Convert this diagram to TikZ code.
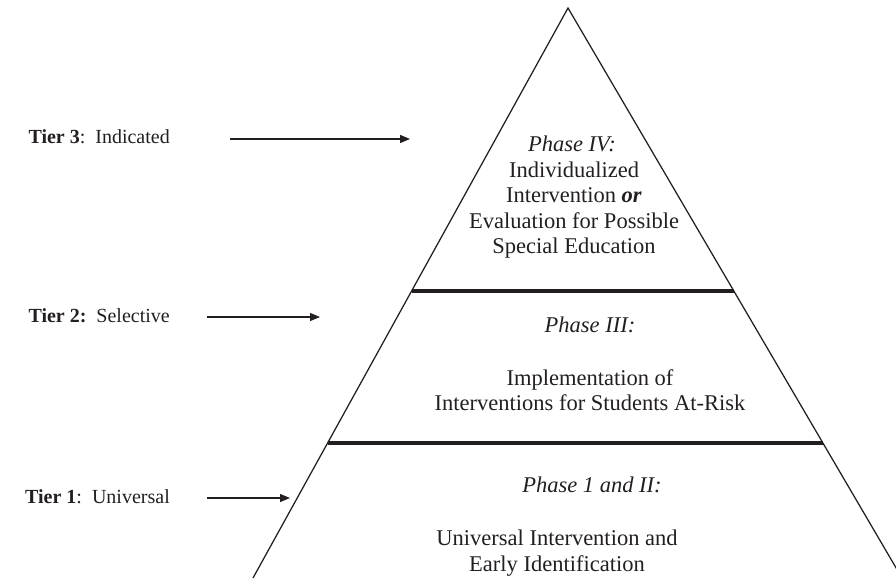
\documentclass[tikz,border=0pt]{standalone}
\usepackage{fontspec}
\setmainfont{Liberation Serif}
\usetikzlibrary{arrows.meta,calc}
\definecolor{ink}{RGB}{35,31,32}
\begin{document}
\begin{tikzpicture}[x=1pt,y=-1pt,
  edge/.style={ink,line width=1.25pt},
  divider/.style={ink,line width=3.8pt},
  pointer/.style={ink,line width=1.2pt,-{Triangle[length=10pt,width=8pt]}},
  tierlabel/.style={anchor=base east,inner sep=0pt,font=\fontsize{20}{23}\selectfont,text=ink},
  phase/.style={inner sep=0pt,font=\fontsize{22.5}{25.3}\selectfont\itshape,text=ink},
  body/.style={inner sep=0pt,align=center,font=\fontsize{22.5}{25.3}\selectfont,text=ink}]
\useasboundingbox (0,0) rectangle (896,578);

% pyramid outline, running off the bottom and right edges
\coordinate (apex) at (568,8);
\coordinate (bl) at (253,578);
\coordinate (br) at (902,578);
\begin{scope}
  \clip (0,0) rectangle (896,578);
  \draw[edge,line join=miter] (bl) -- (apex) -- (br);
\end{scope}

% dividers between the tiers
\draw[divider] ($(apex)!0.4965!(bl)$) -- ($(apex)!0.4965!(br)$);
\draw[divider] ($(apex)!0.7632!(bl)$) -- ($(apex)!0.7632!(br)$);

% texts inside the pyramid
\node[phase] (p4) at (572,144) {Phase IV:};
\node[body] (b4) at (574,210) {Individualized\\Intervention \textbf{\textit{or}}\\Evaluation for Possible\\Special Education};
\node[phase] (p3) at (590,325) {Phase III:};
\node[body] (b3) at (590,390) {Implementation of\\Interventions for Students At-Risk};
\node[phase] (p1) at (592,485) {Phase 1 and II:};
\node[body] (b1) at (557,553) {Universal Intervention and\\Early Identification};

% tier labels with their pointers
\node[tierlabel] (t3) at (170,143) {\textbf{Tier 3}:\ \ Indicated};
\node[tierlabel] (t2) at (170,322) {\textbf{Tier 2:}\ \ Selective};
\node[tierlabel] (t1) at (170,503) {\textbf{Tier 1}:\ \ Universal};

\coordinate (a3s) at (230,139);
\coordinate (a3e) at (410,139);
\coordinate (a2s) at (207,317);
\coordinate (a2e) at (320,317);
\coordinate (a1s) at (207,498);
\coordinate (a1e) at (290,498);
\draw[pointer] (a3s) -- (a3e);
\draw[pointer] (a2s) -- (a2e);
\draw[pointer] (a1s) -- (a1e);
\end{tikzpicture}
\end{document}
